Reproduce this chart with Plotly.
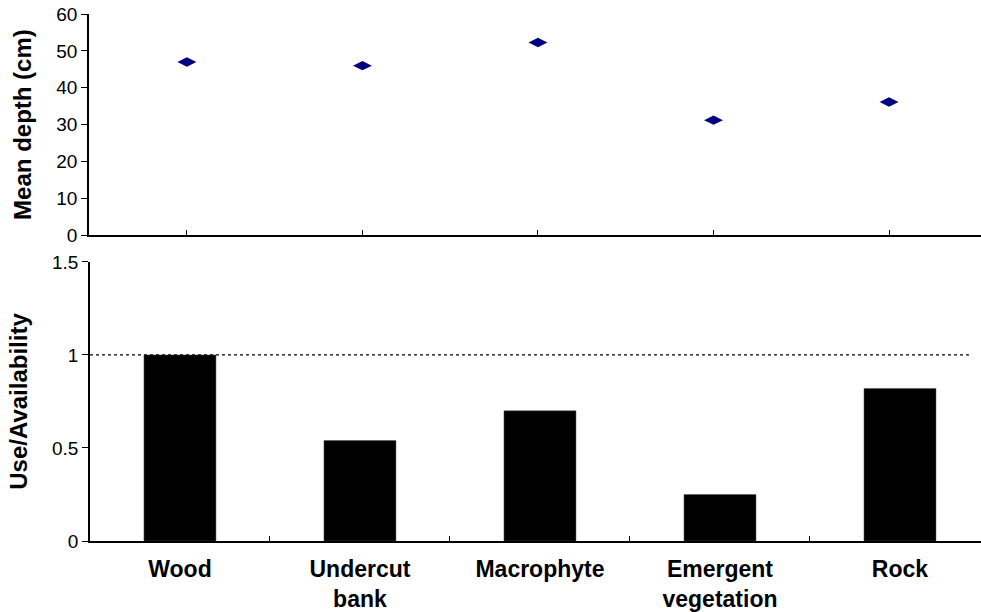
import plotly.graph_objects as go

categories = ["Wood", "Undercut<br>bank", "Macrophyte", "Emergent<br>vegetation", "Rock"]
mean_depth = [47.0, 46.0, 52.3, 31.2, 36.1]
use_availability = [1.0, 0.54, 0.70, 0.25, 0.82]
depth_ticks = [0, 10, 20, 30, 40, 50, 60]
ua_ticks = [0, 0.5, 1, 1.5]
ua_tick_text = ["0", "0.5", "1", "1.5"]

FONT = "Liberation Sans, Arial, sans-serif"

fig = go.Figure()

fig.add_trace(go.Scatter(
    x=categories, y=mean_depth, mode="markers",
    marker=dict(symbol="diamond-wide", size=13.5, color="#000080"),
    xaxis="x", yaxis="y", showlegend=False, cliponaxis=False))

fig.add_trace(go.Bar(
    x=categories, y=use_availability, width=0.4,
    marker=dict(color="black", line=dict(color="#555555", width=0.5)),
    xaxis="x2", yaxis="y2", showlegend=False))

fig.add_shape(type="line", xref="x2 domain", yref="y2", x0=0, x1=0.988, y0=1, y1=1,
              line=dict(color="black", width=1.2, dash="dot"))

axis_common = dict(showline=True, linecolor="black", linewidth=1.5, showgrid=False,
                   zeroline=False, tickcolor="black", automargin=False)

fig.update_layout(
    width=981, height=612,
    margin=dict(l=0, r=0, t=0, b=0, autoexpand=False),
    paper_bgcolor="white", plot_bgcolor="white",
    font=dict(family=FONT, color="black"),
    xaxis=dict(domain=[0.0907, 1.0], anchor="y", type="category",
               range=[-0.558, 4.524], ticks="inside", ticklen=5, showticklabels=False,
               **axis_common),
    yaxis=dict(domain=[0.616, 0.977], anchor="x", range=[0, 60],
               tickvals=depth_ticks, ticks="outside", ticklen=6,
               tickfont=dict(size=19),
               title=dict(text="<b>Mean depth (cm)</b>", font=dict(size=24), standoff=18),
               **axis_common),
    xaxis2=dict(domain=[0.0917, 1.0], anchor="y2", type="category",
                range=[-0.5, 4.45], ticks="inside", ticklen=5, tickson="boundaries",
                tickfont=dict(size=23), ticklabelstandoff=7,
                tickvals=categories,
                ticktext=["<b>" + c + "</b>" for c in categories],
                **axis_common),
    yaxis2=dict(domain=[0.116, 0.572], anchor="x2", range=[0, 1.5],
                tickvals=ua_ticks, ticktext=ua_tick_text, ticks="outside", ticklen=6,
                tickfont=dict(size=19),
                title=dict(text="<b>Use/Availability</b>", font=dict(size=24), standoff=18),
                **axis_common),
)

fig.write_html("out.html", config={"displayModeBar": False},
               post_script="document.body.style.margin='0px';document.body.style.overflow='hidden';")
